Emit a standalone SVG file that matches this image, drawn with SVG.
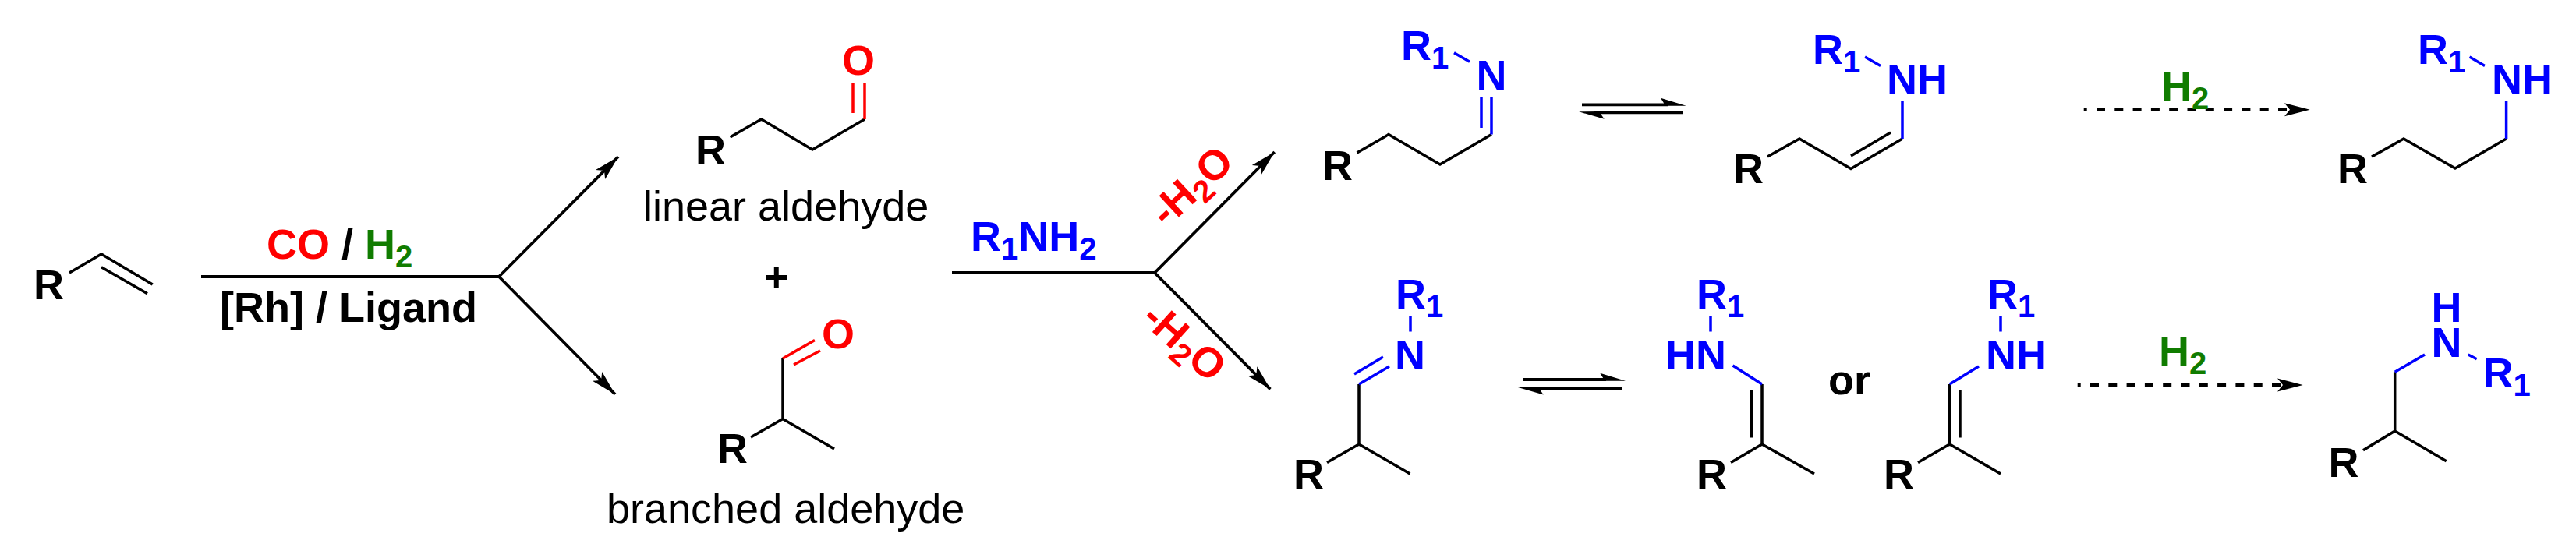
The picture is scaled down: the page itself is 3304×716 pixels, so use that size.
<svg xmlns="http://www.w3.org/2000/svg" width="3304" height="716" viewBox="0 0 3304 716">
<style>
text{font-family:"Liberation Sans",Arial,sans-serif;font-size:54px;font-weight:700;fill:#000}
.l{font-weight:400}
.b{fill:#0000ff}.r{fill:#ff0000}.g{fill:#107c00}
.s{font-size:40px}
path{fill:none;stroke:#000;stroke-width:3.5}
path.bb{stroke:#0000ff}path.rb{stroke:#ff0000}
#connectors path{stroke-width:3.8}
#connectors path.t{stroke-width:4.2}
#connectors path.d{stroke-dasharray:11 12.3;stroke-dashoffset:7}
polygon{fill:#000;stroke:none}
</style>
<defs>
<marker id="ah" markerUnits="userSpaceOnUse" markerWidth="40" markerHeight="30" refX="32.500" refY="15" orient="auto" viewBox="0 0 40 30"><polygon points="32.500,15 0,6.500 7,15 0,23.500"/></marker>
</defs>
<rect width="3304" height="716" fill="#fff"/>
<g id="connectors">
<path class="t" d="M258 355H640"/>
<path d="M640 355L793 201" marker-end="url(#ah)"/>
<path d="M640 355L789 506" marker-end="url(#ah)"/>
<path class="t" d="M1221 350H1481"/>
<path d="M1481 350L1634.700 195" marker-end="url(#ah)"/>
<path d="M1481 350L1629.300 499.300" marker-end="url(#ah)"/>
<path d="M2029 134.300H2140M2044 144.300H2158"/>
<polygon points="2162.700,135.700 2130,125.700 2134,132.200 2134,135.700"/>
<polygon points="2025,143.300 2057.700,152.700 2053,146 2053,143"/>
<path d="M1953 487H2060M1968 498H2080"/>
<polygon points="2085,488.700 2052.300,478.700 2056.300,485.200 2056.300,488.700"/>
<polygon points="1947,497 1979.700,506.400 1975,499.700 1975,496.700"/>
<path class="d" d="M2672.700 140.700H2940"/>
<polygon points="2962.700,140.700 2930,132.300 2937,140.700 2930,149.300"/>
<path class="d" d="M2664.700 494H2931"/>
<polygon points="2953.700,494 2921,485.600 2928,494 2921,502.600"/>
</g>
<g id="reagents">
<text x="342" y="331.500"><tspan class="r">CO</tspan> / <tspan class="g">H<tspan class="s" dy="11">2</tspan></tspan></text>
<text x="282" y="413">[Rh] / Ligand</text>
<text x="1245" y="322" class="b">R<tspan class="s" dy="11">1</tspan><tspan dy="-11">NH</tspan><tspan class="s" dy="11">2</tspan></text>
<text transform="translate(1540.500 252) rotate(-42.700)" text-anchor="middle" class="r">-H<tspan class="s" dy="11">2</tspan><tspan dy="-11">O</tspan></text>
<text transform="translate(1507 452) rotate(42)" text-anchor="middle" class="r">-H<tspan class="s" dy="11">2</tspan><tspan dy="-11">O</tspan></text>
<text x="2772" y="129" class="g">H<tspan class="s" dy="11">2</tspan></text>
<text x="2769" y="469" class="g">H<tspan class="s" dy="11">2</tspan></text>
<text x="980" y="374">+</text>
<text x="2345" y="505.500">or</text>
</g>
<g id="alkene">
<text x="43" y="384">R</text>
<path d="M89 350L130 326L195.700 365M130 342.700L189 376.700"/>
</g>
<g id="linear-aldehyde">
<text x="892" y="211">R</text>
<text x="1080" y="96" class="r">O</text>
<path d="M936.500 176L976.500 153L1042 192L1109 153"/>
<path class="rb" d="M1109 153V106M1094 145V106"/>
<text x="825" y="282.500" class="l">linear aldehyde</text>
</g>
<g id="branched-aldehyde">
<text x="920" y="594">R</text>
<text x="1054" y="447" class="r">O</text>
<path d="M1004 460V537.500L963 561M1004 537.500L1070 576"/>
<path class="rb" d="M1004 460L1045 436.500M1018 468L1052 450"/>
<text x="778" y="671" class="l">branched aldehyde</text>
</g>
<g id="imine-linear">
<text x="1696" y="231">R</text>
<text x="1797" y="76.700" class="b">R<tspan class="s" dy="11">1</tspan></text>
<text x="1893.500" y="115" class="b">N</text>
<path d="M1740.500 196L1781 172.600L1847 211L1913 172.600"/>
<path class="bb" d="M1865 67.700L1885 79.300M1913 172.600V124M1900 164V124"/>
</g>
<g id="enamine-linear">
<text x="2223" y="235">R</text>
<text x="2325" y="82" class="b">R<tspan class="s" dy="11">1</tspan></text>
<text x="2420" y="120" class="b">NH</text>
<path d="M2267 201L2308 178L2374 216.400L2440 178M2374 200L2425 170"/>
<path class="bb" d="M2392 73L2412 84.500M2440 178V130"/>
</g>
<g id="amine-linear">
<text x="2998" y="235">R</text>
<text x="3101" y="82" class="b">R<tspan class="s" dy="11">1</tspan></text>
<text x="3196" y="120" class="b">NH</text>
<path d="M3042 201L3083 178L3149 216L3214.600 178"/>
<path class="bb" d="M3167.500 73L3187 84.500M3214.600 178V130"/>
</g>
<g id="imine-branched">
<text x="1659" y="626.500">R</text>
<text x="1790" y="396" class="b">R<tspan class="s" dy="11">1</tspan></text>
<text x="1789" y="473.500" class="b">N</text>
<path d="M1743 493V570L1702 593.600M1743 570L1808.500 608"/>
<path class="bb" d="M1809 405.500V425.500M1743 493L1782 470M1737 480L1774 458"/>
</g>
<g id="enamine-branched-a">
<text x="2176" y="626.500">R</text>
<text x="2176" y="396" class="b">R<tspan class="s" dy="11">1</tspan></text>
<text x="2136" y="473.500" class="b">HN</text>
<path d="M2260 493V570L2220 593.600M2260 570L2327 608M2246.500 501V561.600"/>
<path class="bb" d="M2194 405.500V425.500M2222.500 469L2260 493"/>
</g>
<g id="enamine-branched-b">
<text x="2416" y="626.500">R</text>
<text x="2549" y="396" class="b">R<tspan class="s" dy="11">1</tspan></text>
<text x="2547" y="473.500" class="b">NH</text>
<path d="M2500.600 493V570L2460 593.600M2500.600 570L2566 608M2514 501V561.600"/>
<path class="bb" d="M2566 405.500V425.500M2538 470L2500.600 493"/>
</g>
<g id="amine-branched">
<text x="2986.500" y="611.500">R</text>
<text x="3118.500" y="412.500" class="b">H</text>
<text x="3118.500" y="458" class="b">N</text>
<text x="3184.500" y="496.500" class="b">R<tspan class="s" dy="11">1</tspan></text>
<path d="M3071.700 477.300V553L3031 577.700M3071.700 553L3137.700 591.700"/>
<path class="bb" d="M3165.700 455L3176.700 460.700M3110 455L3071.700 477.300"/>
</g>
</svg>
